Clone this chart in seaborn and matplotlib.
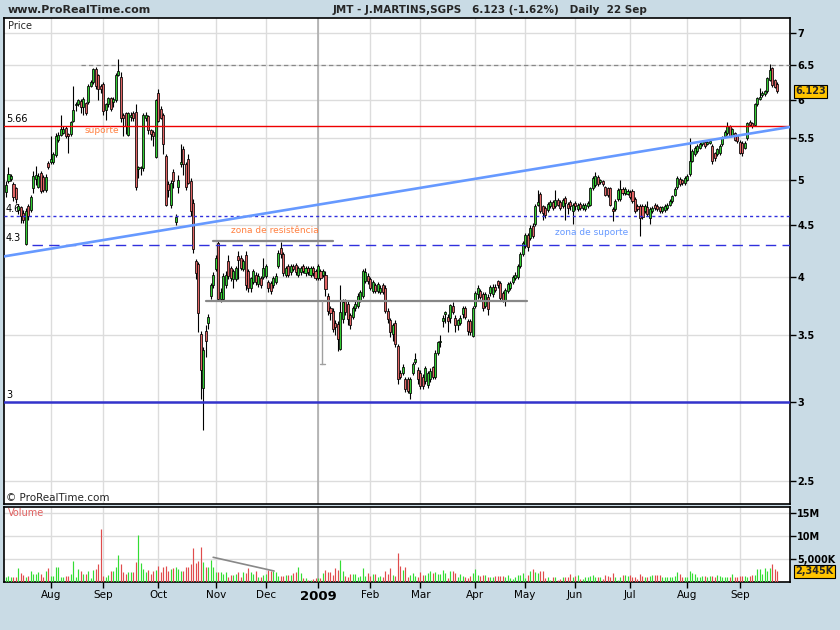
import numpy as np
import pandas as pd
import matplotlib
matplotlib.use("Agg")
import matplotlib.pyplot as plt
import seaborn as sns
from matplotlib.ticker import NullLocator

# ---------------- data (daily candles, 8 Jul 2008 - 22 Sep 2009) ----------------
opens = [
4.86,4.98,5.01,4.95,4.90,4.66,4.69,4.63,4.31,4.70,
4.66,4.90,5.01,4.92,5.08,5.03,4.88,5.19,5.20,5.20,
5.29,5.47,5.54,5.57,5.63,5.55,5.55,5.72,5.93,5.94,
5.99,5.90,5.96,5.97,6.20,6.25,6.45,6.35,6.20,6.22,
5.86,5.95,6.03,5.98,6.00,6.36,6.32,5.80,5.82,5.54,
5.77,5.82,5.84,5.12,5.13,5.13,5.76,5.78,5.60,5.58,
5.27,6.10,5.88,5.80,5.28,4.95,4.72,5.09,4.54,4.92,
5.18,5.36,5.18,5.24,4.98,4.74,4.15,4.12,3.51,3.10,
3.53,3.60,3.83,3.92,4.07,4.32,3.80,3.80,3.92,4.15,
4.08,3.98,3.98,4.19,4.18,4.07,4.20,4.05,3.90,3.95,
4.02,3.93,3.99,4.00,4.01,3.95,3.94,3.92,3.95,4.10,
4.27,4.21,4.02,4.10,4.04,4.10,4.11,4.02,4.04,4.10,
4.03,4.08,4.02,4.08,4.05,3.99,4.05,4.02,4.02,3.83,
3.72,3.70,3.60,3.59,3.39,3.63,3.79,3.76,3.66,3.65,
3.72,3.74,3.79,3.83,3.96,4.01,3.98,3.87,3.92,3.87,
3.86,3.92,3.90,3.70,3.62,3.51,3.60,3.41,3.21,3.21,
3.16,3.16,3.06,3.21,3.29,3.23,3.21,3.18,3.15,3.12,
3.16,3.25,3.18,3.36,3.44,3.61,3.67,3.65,3.64,3.74,
3.64,3.58,3.60,3.67,3.72,3.61,3.61,3.49,3.74,3.84,
3.87,3.84,3.74,3.82,3.85,3.84,3.91,3.96,3.94,3.85,
3.79,3.87,3.90,3.95,3.99,4.00,4.10,4.21,4.29,4.40,
4.37,4.49,4.51,4.72,4.84,4.70,4.68,4.66,4.70,4.75,
4.70,4.77,4.75,4.70,4.79,4.73,4.75,4.65,4.74,4.67,
4.73,4.68,4.67,4.70,4.72,4.90,4.94,5.03,4.97,4.98,
4.91,4.90,4.90,4.67,4.67,4.78,4.78,4.89,4.85,4.84,
4.86,4.87,4.78,4.71,4.71,4.71,4.65,4.69,4.58,4.65,
4.72,4.71,4.69,4.65,4.66,4.68,4.72,4.76,4.83,4.91,
5.01,4.99,4.96,5.00,5.06,5.22,5.30,5.34,5.38,5.42,
5.45,5.43,5.44,5.40,5.31,5.30,5.31,5.42,5.52,5.56,
5.65,5.54,5.56,5.52,5.45,5.44,5.38,5.50,5.71,5.69,
5.67,5.94,6.02,6.07,6.08,6.12,6.29,6.46,6.28,6.23]

highs = [
4.98,5.15,5.06,4.97,4.92,4.73,4.71,4.66,4.68,4.73,
4.82,5.10,5.16,5.07,5.10,5.05,5.06,5.22,5.52,5.33,
5.56,5.58,5.80,5.65,5.65,5.57,5.72,6.20,5.98,6.02,
6.02,6.04,5.98,6.23,6.28,6.46,6.47,6.37,6.23,6.25,
5.96,6.05,6.05,6.04,6.38,6.60,6.40,5.82,5.84,5.84,
5.84,5.85,5.94,5.16,5.16,5.82,5.84,5.80,5.62,5.60,
6.02,6.16,5.92,5.82,5.30,4.98,5.00,5.12,4.62,5.05,
5.42,5.40,5.20,5.30,5.02,4.78,4.17,4.14,3.53,3.40,
3.58,3.67,3.94,4.04,4.20,4.35,3.90,4.03,4.05,4.20,
4.10,4.07,4.10,4.24,4.20,4.17,4.24,4.07,4.00,4.07,
4.04,4.03,4.01,4.18,4.12,3.97,3.96,4.01,4.03,4.25,
4.33,4.23,4.10,4.12,4.12,4.12,4.13,4.10,4.10,4.12,
4.10,4.10,4.10,4.10,4.07,4.12,4.07,4.07,4.05,3.85,
3.74,3.72,3.62,3.61,3.92,3.80,3.80,3.78,3.68,3.74,
3.78,3.85,3.88,4.07,4.08,4.03,4.00,3.97,3.94,3.95,
3.92,3.94,3.92,3.72,3.64,3.60,3.62,3.43,3.23,3.27,
3.18,3.18,3.18,3.29,3.36,3.25,3.23,3.20,3.26,3.22,
3.24,3.26,3.38,3.45,3.50,3.66,3.70,3.67,3.76,3.77,
3.66,3.63,3.66,3.74,3.74,3.63,3.63,3.74,3.87,3.92,
3.89,3.86,3.86,3.84,3.92,3.93,3.93,3.97,3.96,3.87,
3.90,3.95,3.96,4.02,4.04,4.12,4.23,4.34,4.42,4.42,
4.50,4.52,4.73,4.88,4.86,4.72,4.70,4.75,4.77,4.77,
4.88,4.79,4.77,4.79,4.81,4.75,4.77,4.74,4.76,4.74,
4.75,4.74,4.74,4.76,4.92,5.04,5.09,5.05,5.01,5.00,
4.93,4.92,4.92,4.69,4.78,4.90,5.00,4.91,4.91,4.89,
4.88,4.89,4.80,4.73,4.73,4.73,4.73,4.76,4.69,4.70,
4.74,4.73,4.71,4.71,4.73,4.74,4.78,4.83,4.91,5.04,
5.03,5.01,5.04,5.06,5.50,5.36,5.40,5.42,5.45,5.48,
5.47,5.47,5.48,5.42,5.33,5.38,5.42,5.52,5.60,5.70,
5.67,5.63,5.58,5.54,5.47,5.46,5.46,5.71,5.73,5.71,
5.96,6.05,6.17,6.12,6.14,6.33,6.52,6.48,6.30,6.25]

lows = [
4.80,4.96,4.98,4.76,4.74,4.62,4.53,4.52,4.30,4.56,
4.64,4.85,4.94,4.90,4.85,4.86,4.86,5.12,5.18,5.18,
5.27,5.45,5.52,5.55,5.50,5.32,5.53,5.70,5.85,5.92,
5.82,5.80,5.80,5.95,6.18,6.22,6.15,6.00,6.10,5.80,
5.73,5.90,5.85,5.90,5.98,6.34,5.70,5.52,5.55,5.52,
5.72,5.72,4.88,5.02,5.05,5.10,5.72,5.55,5.48,5.40,
5.25,5.70,5.74,5.30,4.70,4.80,4.68,4.90,4.50,4.85,
5.15,5.05,4.88,4.95,4.60,4.22,3.98,3.52,3.02,2.81,
3.33,3.55,3.80,3.90,4.05,3.78,3.77,3.78,3.90,3.98,
3.96,3.90,3.96,3.98,4.06,4.05,3.88,3.86,3.86,3.93,
3.92,3.91,3.90,3.98,3.99,3.86,3.84,3.90,3.93,4.08,
4.18,4.01,4.00,4.00,4.02,4.05,4.02,4.00,4.02,4.03,
4.01,4.02,4.00,4.01,3.97,3.97,3.97,4.00,3.83,3.66,
3.62,3.52,3.50,3.37,3.38,3.60,3.66,3.58,3.55,3.63,
3.70,3.72,3.77,3.81,3.94,3.93,3.88,3.85,3.85,3.85,
3.84,3.84,3.68,3.60,3.48,3.45,3.40,3.13,3.16,3.19,
3.07,3.06,3.02,3.19,3.27,3.13,3.09,3.09,3.13,3.10,
3.14,3.16,3.16,3.34,3.40,3.56,3.60,3.52,3.60,3.67,
3.52,3.54,3.58,3.64,3.63,3.50,3.50,3.48,3.72,3.80,
3.80,3.70,3.72,3.66,3.83,3.82,3.86,3.90,3.79,3.77,
3.74,3.85,3.88,3.93,3.97,3.98,4.08,4.19,4.27,4.24,
4.35,4.37,4.49,4.70,4.63,4.56,4.58,4.64,4.68,4.66,
4.68,4.70,4.66,4.68,4.56,4.62,4.66,4.51,4.66,4.65,
4.66,4.66,4.65,4.68,4.70,4.88,4.92,4.93,4.95,4.93,
4.81,4.80,4.70,4.55,4.65,4.76,4.76,4.83,4.83,4.82,
4.78,4.74,4.63,4.65,4.39,4.57,4.63,4.60,4.51,4.63,
4.66,4.65,4.63,4.63,4.64,4.66,4.70,4.74,4.81,4.89,
4.93,4.94,4.94,4.98,5.04,5.20,5.28,5.32,5.36,5.40,
5.38,5.41,5.42,5.18,5.22,5.28,5.29,5.40,5.50,5.54,
5.51,5.52,5.46,5.44,5.30,5.28,5.36,5.48,5.65,5.63,
5.65,5.92,6.00,6.05,6.06,6.10,6.27,6.19,6.17,6.10]

closes = [
4.94,5.06,5.04,4.80,4.78,4.71,4.60,4.56,4.65,4.60,
4.80,5.04,5.05,5.04,4.87,4.88,5.03,5.15,5.24,5.30,
5.52,5.54,5.62,5.62,5.52,5.52,5.70,5.87,5.95,6.00,
5.90,6.02,5.82,6.20,6.25,6.44,6.20,6.15,6.15,5.85,
5.94,6.03,5.88,6.02,6.36,6.42,5.76,5.76,5.65,5.82,
5.80,5.76,4.91,5.14,5.14,5.80,5.80,5.60,5.55,5.52,
6.00,5.72,5.76,5.42,4.72,4.88,4.96,4.98,4.59,5.00,
5.20,5.18,4.92,4.96,4.65,4.26,4.03,3.68,3.23,3.38,
3.45,3.65,3.92,4.02,4.18,3.80,3.86,4.01,4.02,4.01,
3.99,4.05,4.08,4.16,4.08,4.15,3.92,3.90,3.99,4.05,
3.95,4.01,3.92,4.08,4.10,3.90,3.87,3.99,4.01,4.22,
4.21,4.03,4.08,4.02,4.10,4.07,4.04,4.08,4.08,4.05,
4.08,4.04,4.08,4.03,3.99,4.10,3.99,4.05,3.89,3.70,
3.68,3.55,3.56,3.47,3.69,3.77,3.69,3.63,3.58,3.72,
3.76,3.83,3.86,4.05,4.04,3.96,3.90,3.95,3.87,3.93,
3.90,3.86,3.70,3.63,3.52,3.58,3.43,3.16,3.18,3.25,
3.09,3.08,3.16,3.27,3.31,3.16,3.11,3.11,3.24,3.21,
3.22,3.18,3.36,3.44,3.45,3.64,3.69,3.61,3.75,3.69,
3.58,3.62,3.64,3.72,3.65,3.53,3.52,3.72,3.85,3.90,
3.82,3.72,3.84,3.71,3.91,3.91,3.88,3.92,3.81,3.79,
3.88,3.93,3.94,4.00,4.02,4.10,4.21,4.32,4.40,4.28,
4.47,4.39,4.70,4.75,4.65,4.63,4.61,4.73,4.75,4.68,
4.77,4.72,4.68,4.77,4.74,4.68,4.70,4.72,4.70,4.72,
4.68,4.72,4.72,4.74,4.90,5.02,5.04,4.95,4.99,4.95,
4.83,4.82,4.72,4.65,4.76,4.88,4.89,4.85,4.89,4.87,
4.80,4.76,4.65,4.67,4.58,4.59,4.71,4.62,4.67,4.68,
4.68,4.67,4.65,4.69,4.71,4.72,4.76,4.81,4.89,5.02,
4.95,4.96,5.02,5.04,5.22,5.34,5.38,5.40,5.43,5.46,
5.40,5.45,5.46,5.22,5.25,5.36,5.40,5.50,5.58,5.65,
5.53,5.61,5.48,5.46,5.32,5.32,5.44,5.69,5.67,5.65,
5.94,6.03,6.05,6.10,6.12,6.31,6.43,6.21,6.19,6.123]

# volume in millions of shares
volumes_m = [
1.16,1.38,1.16,1.16,1.16,3.12,1.88,1.52,1.16,1.38,
2.39,1.74,1.74,2.10,1.74,1.16,2.39,3.12,1.38,1.38,
3.26,3.26,1.16,1.16,1.38,1.38,1.74,4.57,1.16,2.83,
2.39,1.74,1.74,2.39,0.87,2.61,2.83,3.91,11.5,1.38,
1.16,1.52,2.39,2.39,3.26,5.87,3.91,2.10,1.74,2.10,
2.10,2.10,4.35,10.2,4.13,2.83,2.10,2.61,1.74,2.39,
2.61,3.48,2.10,3.26,3.48,2.39,2.83,3.12,3.26,2.83,
2.39,2.39,3.26,3.26,3.91,7.39,4.13,4.57,7.61,4.35,
3.26,3.26,4.78,3.26,2.10,2.10,2.10,1.74,2.10,1.16,
1.52,1.52,1.74,2.10,1.16,2.10,1.88,3.04,2.10,1.74,
2.39,1.16,1.16,1.52,1.74,2.61,2.39,2.39,2.10,1.38,
1.38,1.38,1.52,1.52,1.52,1.88,2.10,3.33,1.88,0.87,
0.87,0.43,0.43,0.65,0.87,0.87,0.87,2.03,2.61,2.17,
2.17,1.45,3.12,2.61,4.78,2.39,1.38,1.16,1.74,1.74,
1.74,1.16,1.38,3.12,1.38,1.88,1.38,1.74,1.74,1.16,
1.38,1.16,2.39,1.74,3.12,1.52,1.38,6.38,3.48,2.61,
3.33,1.16,1.52,1.88,1.38,1.16,
2.25,1.52,1.52,2.03,2.39,1.88,2.25,1.74,1.74,2.61,
2.03,0.80,2.39,2.39,1.88,1.16,1.74,1.38,1.16,0.80,
1.38,1.88,2.83,1.52,1.38,1.52,1.52,1.16,1.16,1.01,
1.38,1.38,1.38,1.38,1.16,1.52,0.80,0.65,1.16,1.52,
1.52,1.88,0.87,1.52,2.39,2.83,2.25,2.03,2.39,2.39,
0.87,1.16,0.51,1.01,1.01,0.43,0.65,1.01,1.01,1.16,
1.74,1.01,1.38,1.52,0.65,0.65,1.01,1.16,1.38,1.52,
1.16,1.16,1.16,0.65,1.52,1.38,1.01,2.03,1.16,0.51,
1.16,1.52,1.52,1.38,1.52,1.01,1.01,0.65,1.74,1.38,
1.01,1.16,1.38,1.52,1.52,1.52,1.52,1.01,1.01,1.16,
1.16,1.16,1.38,2.17,1.67,1.16,1.16,1.16,2.39,2.03,
1.74,1.01,1.16,1.38,1.38,1.16,1.38,1.38,1.01,1.52,
1.38,1.16,1.01,1.01,1.16,1.74,1.16,1.01,1.38,1.38,
1.38,1.01,1.38,1.52,1.52,2.83,2.83,1.74,3.04,2.39,
3.04,3.91,2.83,2.345]

month_labels = ['Aug', 'Sep', 'Oct', 'Nov', 'Dec', '2009', 'Feb', 'Mar',
                'Apr', 'May', 'Jun', 'Jul', 'Aug', 'Sep']
month_start_idx = [18, 39, 61, 84, 104, 125, 146, 166, 188, 208, 228, 250, 273, 294]
price_ticks = [2.5, 3, 3.5, 4, 4.5, 5, 5.5, 6, 6.5, 7]
price_tick_labels = ['2.5', '3', '3.5', '4', '4.5', '5', '5.5', '6', '6.5', '7']
volume_ticks = [5, 10, 15]
volume_tick_labels = ['5,000K', '10M', '15M']

# drawn annotations (levels / trend / zones)
level_top = 6.5
level_support = 5.66
level_46 = 4.6
level_43 = 4.3
level_3 = 3.0
resist_zone_price = 4.345
resist_zone_span = [83.0, 131.0]
lower_zone_price = 3.78
lower_zone_span = [80.1, 208.6]
vert_mark_x = 126.8
vert_mark_prices = [3.78, 3.274]
trend_x = [-1.0, 313.9]
trend_y = [4.19, 5.64]
vol_line_x = [83.0, 107.4]
vol_line_y = [5.37, 2.39]
last_price = 6.123
last_volume = 2.345

# ---------------- styling ----------------
sns.set_theme(style="white")
plt.rcParams['font.family'] = ['DejaVu Sans']
BG = '#c9dbe5'
GREEN = '#33cc33'
RED = '#e06464'
VGREEN = '#33dd33'
VRED = '#e04c4c'
GRID = '#dcdcdc'

W, H = 840, 630
def rect(l, t, r, b):
    return [l / W, 1 - b / H, (r - l) / W, (b - t) / H]

fig = plt.figure(figsize=(8.4, 6.3), dpi=100, facecolor=BG)
ax = fig.add_axes(rect(3.5, 18, 789.5, 504))
axv = fig.add_axes(rect(3.5, 507, 789.5, 582), sharex=ax)
for a in (ax, axv):
    a.set_facecolor('white')

df = pd.DataFrame({'open': opens, 'high': highs, 'low': lows,
                   'close': closes, 'volume': volumes_m})
df['idx'] = np.arange(len(df))
df['high'] = df[['high', 'open', 'close']].max(axis=1)
df['low'] = df[['low', 'open', 'close']].min(axis=1)
df['up'] = df['close'] >= df['open']

XMIN, XMAX = -1.0, 313.9
ax.set_yscale('log')
ax.set_xlim(XMIN, XMAX)
ax.set_ylim(2.3735, 7.245)
axv.set_ylim(0, 16.3)

# grids
ax.set_xticks(month_start_idx)
ax.set_yticks(price_ticks)
ax.set_yticklabels(price_tick_labels)
ax.yaxis.set_minor_locator(NullLocator())
axv.set_yticks(volume_ticks)
axv.set_yticklabels(volume_tick_labels)
for a in (ax, axv):
    a.grid(True, which='major', color=GRID, lw=1.0)
    a.set_axisbelow(True)
    a.axvline(125, color='#a8a8a8', lw=1.1, zorder=0.8)

# candles
ax.vlines(df['idx'], df['low'], df['high'], color='black', lw=0.8, zorder=3)
body_bottom = np.minimum(df['open'], df['close'])
body_h = np.maximum((df['close'] - df['open']).abs(), 0.01)
ax.bar(df['idx'], body_h, bottom=body_bottom, width=0.82,
       color=np.where(df['up'], GREEN, RED), edgecolor='black',
       linewidth=0.55, zorder=4)

# volume
axv.vlines(df['idx'], 0, df['volume'], colors=np.where(df['up'], VGREEN, VRED),
           lw=0.85, zorder=3)
axv.plot(vol_line_x, vol_line_y, color='#888888', lw=1.2, zorder=4)

# levels and drawings
ax.plot([30.05, XMAX], [level_top, level_top], color='#888888', lw=0.9,
        ls=(0, (3.5, 2.5)), zorder=5)
ax.axhline(level_support, color='#ee0000', lw=1.0, zorder=5)
ax.axhline(level_46, color='#3030dd', lw=1.0, ls=(0, (2.2, 2.2)), zorder=5)
ax.plot([10.4, XMAX], [level_43, level_43], color='#3030dd', lw=1.0,
        ls=(0, (7.5, 4.5)), zorder=5)
ax.axhline(level_3, color='#3333cc', lw=1.8, zorder=5)
sns.lineplot(x=trend_x, y=trend_y, ax=ax, color='#6699ff', lw=1.9, zorder=5)
ax.plot(resist_zone_span, [resist_zone_price] * 2, color='#888888', lw=1.6, zorder=5)
ax.plot(lower_zone_span, [lower_zone_price] * 2, color='#888888', lw=1.6, zorder=5)
ax.plot([vert_mark_x] * 2, vert_mark_prices, color='#a0a0a0', lw=1.0, zorder=5)
ax.plot([vert_mark_x - 1.0, vert_mark_x + 1.0], [vert_mark_prices[1]] * 2,
        color='#a0a0a0', lw=1.0, zorder=5)

# texts in chart
ytr = ax.get_yaxis_transform()
for val, lab in [(level_support, '5.66'), (level_46, '4.6'), (level_43, '4.3'), (level_3, '3')]:
    ax.text(0.003, val * 1.004, lab, transform=ytr, fontsize=7, color='black',
            ha='left', va='bottom', zorder=2)
ax.text(31.3, 5.59, 'suporte', fontsize=6.5, color='#ff8040', ha='left', va='center', zorder=6)
ax.text(90.1, 4.45, 'zona de resistência', fontsize=6.5, color='#ff8040',
        ha='left', va='center', zorder=6)
ax.text(219.9, 4.43, 'zona de suporte', fontsize=6.5, color='#6699ff',
        ha='left', va='center', zorder=6)
ax.text(0.006, 0.993, 'Price', transform=ax.transAxes, fontsize=7, ha='left', va='top')
ax.text(0.003, 0.013, '© ProRealTime.com', transform=ax.transAxes, fontsize=7.5,
        ha='left', va='center')
axv.text(0.005, 0.92, 'Volume', transform=axv.transAxes, fontsize=7,
         color='#e06060', ha='left', va='center')

# axes ticks
ax.yaxis.tick_right()
axv.yaxis.tick_right()
for a in (ax, axv):
    a.tick_params(axis='y', which='both', direction='out', length=4, width=1,
                  color='black', labelsize=7, pad=1.5, right=True, left=False,
                  labelright=True, labelleft=False, labelcolor='black')
    for t in a.get_yticklabels():
        t.set_fontweight('bold')
    for s in a.spines.values():
        s.set_color('black')
        s.set_linewidth(1.2)
ax.tick_params(axis='x', length=0, labelbottom=False, bottom=False)
axv.set_xticks(month_start_idx)
axv.set_xticklabels(month_labels)
axv.tick_params(axis='x', direction='out', length=4, width=1, color='black',
                labelsize=7.5, pad=2, bottom=True, labelbottom=True, labelcolor='black')
for t in axv.get_xticklabels():
    if t.get_text() == '2009':
        t.set_fontweight('bold')
        t.set_fontsize(9.5)

# value boxes
ax.text(1.007, last_price, f'{last_price:.3f}', transform=ytr, fontsize=7,
        fontweight='bold', ha='left', va='center', clip_on=False, zorder=10,
        bbox=dict(boxstyle='square,pad=0.15', fc='#ffc400', ec='black', lw=0.8))
axv.text(1.007, last_volume, '2,345K', transform=axv.get_yaxis_transform(), fontsize=7,
         fontweight='bold', ha='left', va='center', clip_on=False, zorder=10,
         bbox=dict(boxstyle='square,pad=0.15', fc='#ffc400', ec='black', lw=0.8))

# header
fig.text(8 / W, 1 - 10 / H, 'www.ProRealTime.com', fontsize=8, fontweight='bold',
         ha='left', va='center')
fig.text(333 / W, 1 - 10 / H, 'JMT - J.MARTINS,SGPS   6.123 (-1.62%)   Daily  22 Sep',
         fontsize=7.5, fontweight='bold', ha='left', va='center')

fig.savefig('out.png', dpi=100, facecolor=BG)
